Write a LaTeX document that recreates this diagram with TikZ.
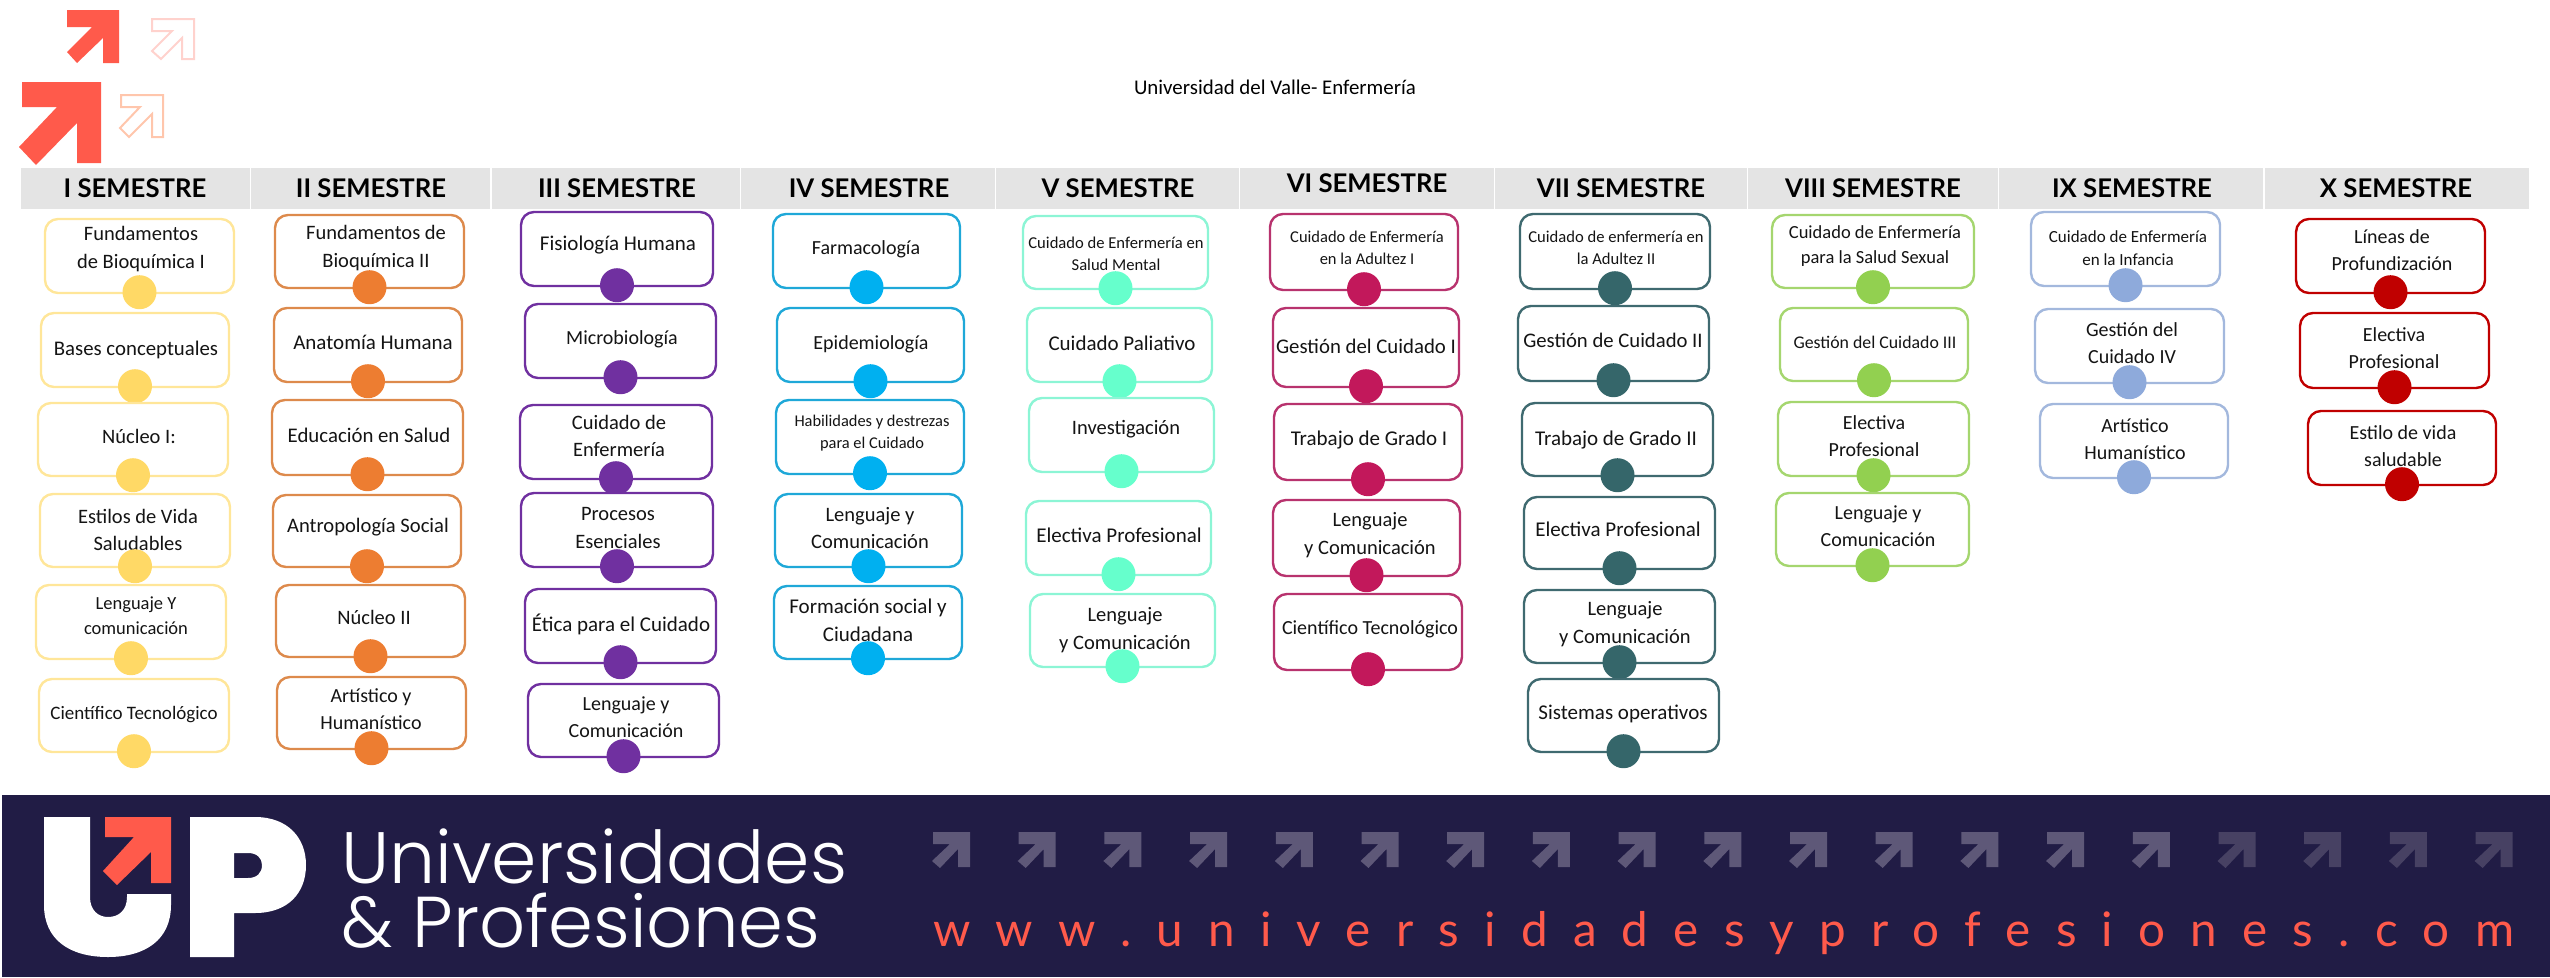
\documentclass[tikz,border=0pt]{standalone}
\usepackage{fontspec}
\setmainfont{Carlito}
\newfontfamily\headfont{Lato}
\newfontfamily\logofont{Poppins Light}
\newfontfamily\urlfont[LetterSpace=53]{Lato}
\usetikzlibrary{arrows.meta, positioning}

\definecolor{upcoral}{HTML}{FF5A4B}
\definecolor{upnavy}{HTML}{211C45}
\definecolor{upgray}{HTML}{E4E4E4}
\definecolor{edgea}{HTML}{FFE699}
\definecolor{filla}{HTML}{FFD966}
\definecolor{edgeb}{HTML}{DD8A4C}
\definecolor{fillb}{HTML}{ED7D31}
\definecolor{edgec}{HTML}{7030A0}
\definecolor{fillc}{HTML}{7030A0}
\definecolor{edged}{HTML}{1FA8D8}
\definecolor{filld}{HTML}{00B0F0}
\definecolor{edgee}{HTML}{8CF5D5}
\definecolor{fille}{HTML}{66FFCC}
\definecolor{edgef}{HTML}{B8336E}
\definecolor{fillf}{HTML}{C2185B}
\definecolor{edgeg}{HTML}{3F6A70}
\definecolor{fillg}{HTML}{35666A}
\definecolor{edgeh}{HTML}{A5D66F}
\definecolor{fillh}{HTML}{92D050}
\definecolor{edgei}{HTML}{A3B8DD}
\definecolor{filli}{HTML}{8EAADB}
\definecolor{edgej}{HTML}{C00000}
\definecolor{fillj}{HTML}{C00000}
\definecolor{outlinea}{HTML}{FFD2CD}
\definecolor{outlineb}{HTML}{FFC6AC}
\definecolor{marklight}{HTML}{5E5878}
\definecolor{markdark}{HTML}{474163}

\newcommand{\lblfont}[1]{\pgfmathsetmacro\lblskip{1.35*#1}\fontsize{#1}{\lblskip}\selectfont}

\tikzset{
    headbar/.style={fill=upgray, draw=none, inner sep=0pt},
    headtext/.style={font=\headfont\bfseries\fontsize{25.7}{28}\selectfont, inner sep=0pt},
    subjectbox/.style={draw, fill=white, line width=2.4pt, rounded corners=13pt, inner sep=0pt},
    subjectdot/.style={circle, inner sep=0pt, minimum size=34pt},
    subjecttext/.style={align=center, inner sep=0pt, text=black!92, yshift=-1pt},
    logotext/.style={anchor=base west, text=white, inner sep=0pt},
}

% one column: letter of its colours, list of boxes
\newcommand{\semcolumn}[2]{
    \foreach \xa/\ya/\xb/\yb/\tx/\ty/\fs/\lbl [count=\n] in {#2} {
        \node[subjectbox, draw=edge#1, minimum width={(\xb-\xa)*1pt}, minimum height={(\yb-\ya)*1pt}]
            (box#1-\n) at ({(\xa+\xb)/2},{(\ya+\yb)/2}) {};
        \node[subjecttext, font=\lblfont{\fs}] (lbl#1-\n) at (\tx,\ty) {\lbl};
        \node[subjectdot, fill=fill#1, yshift=2pt] (dot#1-\n) at (box#1-\n.south) {};
    }
}

\begin{document}
\begin{tikzpicture}[x=1pt, y=-1pt]
    \useasboundingbox (0,0) rectangle (2550,977);

    % Arrows, top left
    \fill[upcoral] (67,10) -- (119,10) -- (119,63) -- (103,63) -- (103,38) -- (77,63) -- (67,52) -- (92,27) -- (67,27) -- cycle;
    \fill[upcoral] (22,82) -- (101,82) -- (101,163) -- (77,163) -- (77,123) -- (36,165) -- (19,147) -- (57,107) -- (22,107) -- cycle;
    \draw[line width=2pt, draw=outlinea] (152,19) -- (194,19) -- (194,59) -- (182,59) -- (182,38) -- (161,59) -- (152,51) -- (172,31) -- (152,31) -- cycle;
    \draw[line width=2pt, draw=outlineb] (121,95) -- (163,95) -- (163,137) -- (152,137) -- (152,114) -- (129,137) -- (120,128) -- (140,107) -- (121,107) -- cycle;

    % Title
    \node[font=\fontsize{20.9}{24}\selectfont, inner sep=0pt] (title) at (1275,87) {Universidad del Valle- Enfermería};

    % Semester headers
    \foreach \xa/\xb/\tx/\ty/\lbl [count=\n] in {
        21/250/135/188/I, 251/490/371/188/II, 492/740/617/188/III, 741/995/869/188/IV,
        996/1239/1118/188/V, 1240/1494/1367/183/VI, 1495/1747/1621/188/VII,
        1748/1998/1873/188/VIII, 1999/2263/2132/188/IX, 2265/2529/2396/188/X} {
        \node[headbar, minimum width={(\xb-\xa)*1pt}, minimum height=41pt] (bar\n) at ({(\xa+\xb)/2},188.5) {};
        \node[headtext] (head\n) at (\tx,\ty) {\lbl\ SEMESTRE};
    }

    % Subject columns
    \semcolumn{a}{
        45/219/234/293/141/248/20.5/{Fundamentos\\de Bioquímica I},
        41/313/229/387/136/349/20.8/{Bases conceptuales},
        38/403/228/476/139/435/20.5/{Núcleo I:},
        40/494/230/567/138/529/20.5/{Estilos de Vida\\Saludables},
        36/585/226/659/136/615/18.5/{Lenguaje Y\\comunicación},
        39/679/229/752/134/714/19/{Científico Tecnológico}}
    \semcolumn{b}{
        275/215/464/288/376/247/20.5/{Fundamentos de\\Bioquímica II},
        274/308/462/382/373/341/21/{Anatomía Humana},
        272/400/463/475/369/434/20.8/{Educación en Salud},
        273/495/461/567/368/526/20.6/{Antropología Social},
        276/585/465/657/374/616/20.5/{Núcleo II},
        277/677/466/749/371/708/20/{Artístico y\\Humanístico}}
    \semcolumn{c}{
        521/212/713/286/618/244/21/{Fisiología Humana},
        525/304/716/378/622/338/20/{Microbiología},
        520/405/712/479/619/435/20.5/{Cuidado de\\Enfermería},
        521/493/713/567/618/527/20.5/{Procesos\\Esenciales},
        525/589/716/663/621/623/21/{Ética para el Cuidado},
        528/684/719/757/626/716/20/{Lenguaje y\\Comunicación}}
    \semcolumn{d}{
        773/214/960/288/866/248/20/{Farmacología},
        777/308/964/382/871/343/20/{Epidemiología},
        776/400/964/474/872/432/16.4/{Habilidades y destrezas\\para el Cuidado},
        775/494/962/567/870/527/20.5/{Lenguaje y\\Comunicación},
        774/586/962/659/868/619/21/{Formación social y\\Ciudadana}}
    \semcolumn{e}{
        1023/216/1208/289/1116/253/16.6/{Cuidado de Enfermería en\\Salud Mental},
        1027/308/1212/382/1122/342/21/{Cuidado Paliativo},
        1029/398/1214/472/1126/428/20.5/{Investigación},
        1026/501/1211/575/1119/534/21/{Electiva Profesional},
        1030/594/1215/667/1125/629/20.5/{Lenguaje\\y Comunicación}}
    \semcolumn{f}{
        1270/214/1458/290/1367/247/16.5/{Cuidado de Enfermería\\en la Adultez I},
        1273/308/1459/387/1366/345/20.8/{Gestión del Cuidado I},
        1274/404/1462/480/1369/439/21/{Trabajo de Grado I},
        1273/500/1460/576/1370/534/20.5/{Lenguaje\\y Comunicación},
        1274/594/1462/670/1370/628/20/{Científico Tecnológico}}
    \semcolumn{g}{
        1520/214/1710/289/1616/247/16.6/{Cuidado de enfermería en\\la Adultez II},
        1518/306/1709/381/1613/339/20.7/{Gestión de Cuidado II},
        1522/403/1713/476/1616/439/21/{Trabajo de Grado II},
        1524/497/1715/569/1618/528/21/{Electiva Profesional},
        1524/590/1715/663/1625/623/20.5/{Lenguaje\\y Comunicación},
        1528/679/1719/752/1623/713/21/{Sistemas operativos}}
    \semcolumn{h}{
        1772/215/1974/288/1875/245/18.5/{Cuidado de Enfermería\\para la Salud Sexual},
        1780/308/1968/381/1875/341/17.8/{Gestión del Cuidado III},
        1778/402/1969/476/1874/435/20/{Electiva\\Profesional},
        1776/493/1969/566/1878/525/20/{Lenguaje y\\Comunicación}}
    \semcolumn{i}{
        2031/212/2220/286/2128/247/17/{Cuidado de Enfermería\\en la Infancia},
        2035/309/2224/383/2132/342/20/{Gestión del\\Cuidado IV},
        2040/404/2228/478/2135/438/20/{Artístico\\Humanístico}}
    \semcolumn{j}{
        2296/219/2485/293/2392/249/20/{Líneas de\\Profundización},
        2300/313/2489/388/2394/347/20/{Electiva\\Profesional},
        2308/411/2496/485/2403/445/20/{Estilo de vida\\saludable}}

    % Footer band
    \fill[upnavy] (2,795) rectangle (2550,977);

    % Logo
    \fill[white] (44,817) -- (90,817) -- (90,897) .. controls (90,910) and (98,917) .. (108,917)
        .. controls (119,917) and (127,910) .. (127,897) -- (127,894) -- (171,894) -- (171,905)
        .. controls (171,940) and (145,957) .. (108,957) .. controls (70,957) and (44,940) .. (44,905) -- cycle;
    \fill[white, even odd rule] (190,817) -- (255,817) .. controls (288,817) and (306,838) .. (306,865)
        .. controls (306,893) and (288,913) .. (255,913) -- (234,913) -- (234,957) -- (190,957) -- cycle
        (234,853) -- (248,853) .. controls (257,853) and (262,858) .. (262,865)
        .. controls (262,873) and (257,878) .. (248,878) -- (234,878) -- cycle;
    \fill[upcoral] (105,817) -- (171,817) -- (171,883) -- (151,883) -- (151,852) -- (117,885) -- (103,871) -- (134,837) -- (105,837) -- cycle;
    \node[logotext, font=\logofont\fontsize{72.8}{73}\selectfont] (logoa) at (341,883) {Universidades};
    \node[logotext, font=\logofont\fontsize{72}{73}\selectfont] (logob) at (341,947) {\&\ Profesiones};

    % Row of small arrows
    \foreach \n in {0,...,18} {
        \pgfmathsetmacro\ax{933+85.7*\n}
        \ifnum\n<15 \def\mk{marklight}\else \def\mk{markdark}\fi
        \fill[fill=\mk, shift={(\ax,832)}] (0,0) -- (37,0) -- (37,35) -- (25,35) -- (25,17) -- (7,36) -- (-1,29) -- (17,12) -- (0,12) -- cycle;
    }

    % Web address
    \node[anchor=base west, font=\urlfont\fontsize{47.6}{48}\selectfont, text=upcoral, inner sep=0pt] (url) at (933,946) {www.universidadesyprofesiones.com};
\end{tikzpicture}
\end{document}
